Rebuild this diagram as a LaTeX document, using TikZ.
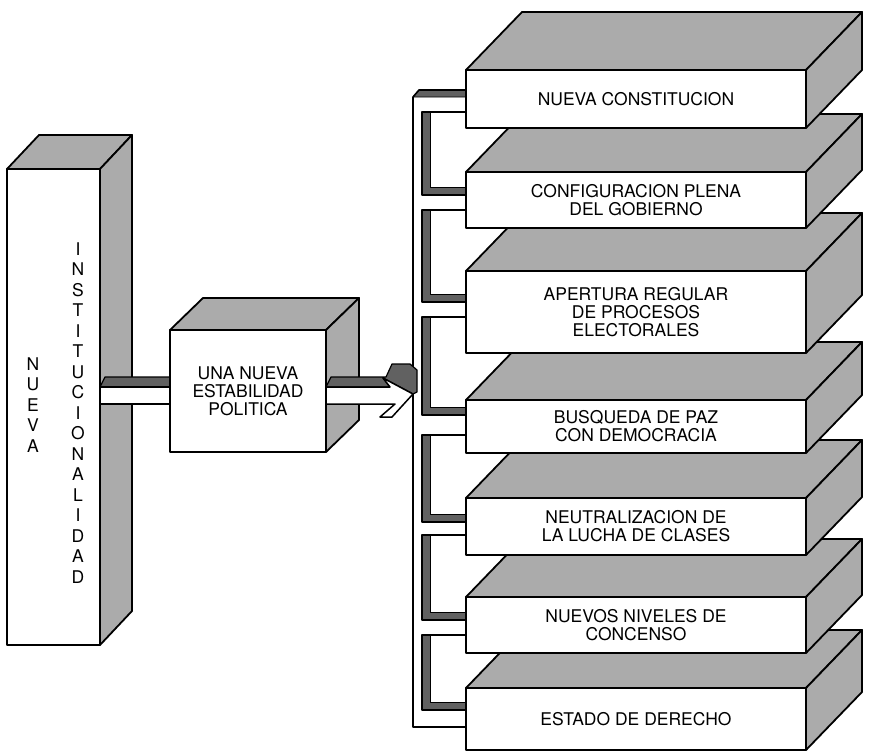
\documentclass[tikz,border=0pt]{standalone}
\usepackage{fontspec}
\setmainfont{TeX Gyre Heros}
\usetikzlibrary{calc}
\newcommand\cubefaces[3]{%
  \draw[shadeface] (#1.north west) -- ++(#2,#3) -- ($(#1.north east)+(#2,#3)$) -- (#1.north east) -- cycle;
  \draw[shadeface] (#1.north east) -- ++(#2,#3) -- ($(#1.south east)+(#2,#3)$) -- (#1.south east) -- cycle;
}
\newcommand\pipeloop[2]{%
  \draw[pipeshade] (422,#1) -- (430,#1) -- (430,#2-8) -- (466,#2-8) -- (466,#2) -- (422,#2) -- cycle;
  \draw[pipeline] (466,#1) -- (422,#1) -- (422,#2) -- (466,#2);
}
\begin{document}
\begin{tikzpicture}[x=1pt,y=-1pt,line join=round,line width=1.8pt,
  shadeface/.style={fill=black!33,draw=black},
  pipeshade/.style={fill=black!62,draw=black,line width=0.7pt},
  pipeline/.style={draw=black,line width=1.6pt},
  frontbox/.style={draw=black,fill=white,inner sep=0pt,outer sep=0pt,anchor=north west,
    align=center,font=\fontsize{17.5}{18}\selectfont},
  vtext/.style={inner sep=0pt,align=center,font=\fontsize{17.5}{20.5}\selectfont},
  arrowface/.style={fill=white,draw=black,line width=1.5pt},
  arrowshade/.style={fill=black!62,draw=black,line width=1.2pt}]
\useasboundingbox (0,0) rectangle (872,752);

% left tall box
\node[frontbox,minimum width=93pt,minimum height=476pt] (lb) at (7,169) {};
\cubefaces{lb}{32}{-34}
\node[vtext] (t1) at (33,405) {N\\U\\E\\V\\A};
\node[vtext] (t2) at (78,413) {I\\N\\S\\T\\I\\T\\U\\C\\I\\O\\N\\A\\L\\I\\D\\A\\D};

% connector left box -> middle box
\draw[arrowshade] (lb.east |- 0,387) -- (105,377) -- (170,377) -- (170,387) -- cycle;
\draw[arrowface] (lb.east |- 0,387) rectangle (170,404);

% middle box
\node[frontbox,minimum width=156pt,minimum height=122pt] (mb) at (170,330) {UNA NUEVA\\ESTABILIDAD\\POLITICA};
\cubefaces{mb}{33}{-32}

% pipe / bracket
\draw[pipeshade] (413,97) -- (419,90) -- (466,90) -- (466,97) -- cycle;
\draw[pipeline] (466,90) -- (419,90) -- (413,97) -- (413,727) -- (466,727);
\pipeloop{112}{195}
\pipeloop{210}{302}
\pipeloop{317}{415}
\pipeloop{435}{522}
\pipeloop{535}{620}
\pipeloop{635}{710}

% arrow middle box -> bracket
\draw[arrowshade] (mb.east |- 0,387) -- (331,377) -- (386,377) -- (392,364) -- (410,364) -- (417,370) -- (417,392) -- (413,394) -- (383,378) -- (390,387) -- cycle;
\draw[arrowface] (mb.east |- 0,387) -- (390,387) -- (383,378) -- (413,394) -- (392,417) -- (380,417) -- (395,404) -- (mb.east |- 0,404) -- cycle;

% right boxes (bottom first)
\node[frontbox,minimum width=340pt,minimum height=62pt] (r7) at (466,688) {ESTADO DE DERECHO};
\cubefaces{r7}{56}{-58}
\node[frontbox,minimum width=340pt,minimum height=56pt] (r6) at (466,597) {NUEVOS NIVELES DE\\CONCENSO};
\cubefaces{r6}{56}{-58}
\node[frontbox,minimum width=340pt,minimum height=57pt] (r5) at (466,498) {NEUTRALIZACION DE\\LA LUCHA DE CLASES};
\cubefaces{r5}{56}{-58}
\node[frontbox,minimum width=340pt,minimum height=53pt] (r4) at (466,400) {BUSQUEDA DE PAZ\\CON DEMOCRACIA};
\cubefaces{r4}{56}{-58}
\node[frontbox,minimum width=340pt,minimum height=82pt] (r3) at (466,271) {APERTURA REGULAR\\DE PROCESOS\\ELECTORALES};
\cubefaces{r3}{56}{-58}
\node[frontbox,minimum width=340pt,minimum height=56pt] (r2) at (466,172) {CONFIGURACION PLENA\\DEL GOBIERNO};
\cubefaces{r2}{56}{-58}
\node[frontbox,minimum width=340pt,minimum height=58pt] (r1) at (466,70) {NUEVA CONSTITUCION};
\cubefaces{r1}{56}{-58}
\end{tikzpicture}
\end{document}
